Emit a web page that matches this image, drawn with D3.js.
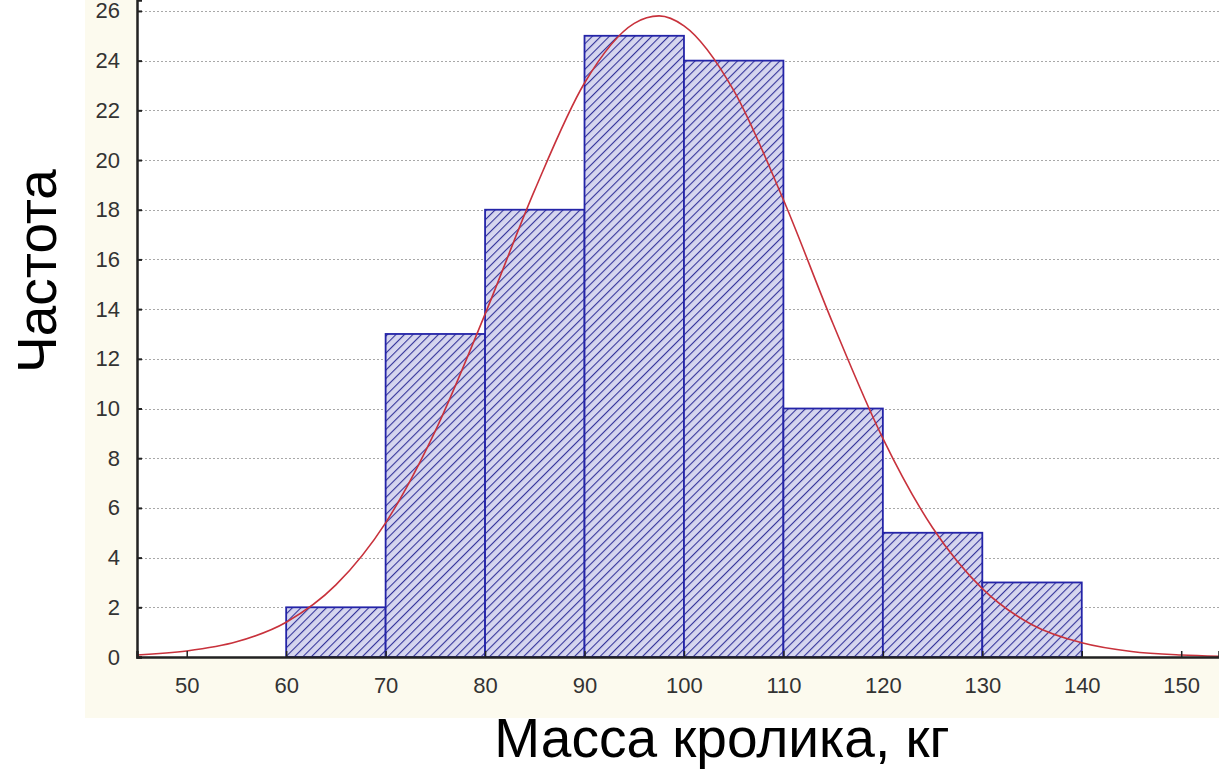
<!DOCTYPE html>
<html>
<head>
<meta charset="utf-8">
<script src="https://cdn.jsdelivr.net/npm/d3@7"></script>
<style>
  html, body { margin: 0; padding: 0; background: #ffffff; }
  svg { display: block; }
  text { font-family: Arial, "Liberation Sans", sans-serif; }
</style>
</head>
<body>
<svg id="chart" width="1219" height="769"></svg>
<script>
// Histogram bins (kg) and counts
const binStarts = [60, 70, 80, 90, 100, 110, 120, 130];
const binWidth = 10;
const counts = [2, 13, 18, 25, 24, 10, 5, 3];

// Fitted normal curve
const curveX = [45, 50, 55, 60, 65, 70, 75, 80, 85, 90, 95, 97.5, 100, 105, 110, 115, 120, 125, 130, 135, 140, 145, 150, 154];
const curveY = [0.08, 0.24, 0.61, 1.4, 2.9, 5.4, 9.1, 13.8, 18.8, 23.1, 25.5, 25.8, 25.4, 22.8, 18.4, 13.4, 8.8, 5.2, 2.75, 1.3, 0.57, 0.22, 0.08, 0.03];

const xTicks = [50, 60, 70, 80, 90, 100, 110, 120, 130, 140, 150];
const yTicks = [0, 2, 4, 6, 8, 10, 12, 14, 16, 18, 20, 22, 24, 26];

const xLabel = 'Масса кролика, кг';
const yLabel = 'Частота';

const svg = d3.select('#chart');
const plotLeft = 137, plotRight = 1219, plotTop = 0, plotBottom = 657;

const x = d3.scaleLinear().domain([45, 153.8]).range([plotLeft, plotRight]);
const y = d3.scaleLinear().domain([0, 26.44]).range([plotBottom, plotTop]);

// Cream panel behind the chart image
svg.append('rect')
  .attr('x', 85).attr('y', 0).attr('width', 1219 - 85).attr('height', 718)
  .attr('fill', '#fcfaee');
svg.append('rect')
  .attr('x', plotLeft).attr('y', plotTop)
  .attr('width', plotRight - plotLeft).attr('height', plotBottom - plotTop)
  .attr('fill', '#ffffff');

// Hatch pattern for the bars
const defs = svg.append('defs');
const pattern = defs.append('pattern')
  .attr('id', 'hatch')
  .attr('patternUnits', 'userSpaceOnUse')
  .attr('width', 6).attr('height', 6)
  .attr('patternTransform', 'rotate(45)');
pattern.append('rect').attr('width', 6).attr('height', 6).attr('fill', '#d6d6ef');
pattern.append('line')
  .attr('x1', 0).attr('y1', 0).attr('x2', 0).attr('y2', 6)
  .attr('stroke', '#34349a').attr('stroke-width', 2.2);

// Grid lines
svg.append('g')
  .selectAll('line')
  .data(yTicks.filter(d => d > 0))
  .join('line')
  .attr('x1', plotLeft).attr('x2', plotRight)
  .attr('y1', d => Math.round(y(d)) + 0.5).attr('y2', d => Math.round(y(d)) + 0.5)
  .attr('stroke', '#a8a8a8')
  .attr('stroke-width', 1)
  .attr('stroke-dasharray', '2,2');

// Bars
svg.append('g')
  .selectAll('rect')
  .data(counts)
  .join('rect')
  .attr('x', (d, i) => x(binStarts[i]))
  .attr('y', d => y(d))
  .attr('width', (d, i) => x(binStarts[i] + binWidth) - x(binStarts[i]))
  .attr('height', d => y(0) - y(d))
  .attr('fill', 'url(#hatch)')
  .attr('stroke', '#2424a8')
  .attr('stroke-width', 1.8);

// Normal curve
const line = d3.line()
  .x((d, i) => x(curveX[i]))
  .y(d => y(d))
  .curve(d3.curveMonotoneX);
svg.append('path')
  .datum(curveY)
  .attr('d', line)
  .attr('fill', 'none')
  .attr('stroke', '#c8323c')
  .attr('stroke-width', 1.6);

// Axes
const xAxis = d3.axisBottom(x).tickValues(xTicks).tickSize(-6).tickPadding(20);
const yAxis = d3.axisLeft(y).tickValues(yTicks).tickSize(-5).tickPadding(17);

const gx = svg.append('g').attr('transform', `translate(0,${plotBottom})`).call(xAxis);
gx.select('.domain').attr('stroke', '#222').attr('stroke-width', 2.5);
gx.selectAll('.tick line').attr('stroke', '#222').attr('stroke-width', 1.5);
gx.selectAll('.tick text')
  .attr('font-size', 22).attr('fill', '#333')
  .attr('font-family', 'Arial, "Liberation Sans", sans-serif');

const gy = svg.append('g').attr('transform', `translate(${plotLeft},0)`).call(yAxis);
gy.select('.domain').attr('stroke', '#222').attr('stroke-width', 2.5);
gy.selectAll('.tick line').attr('stroke', '#222').attr('stroke-width', 2);
gy.selectAll('.tick text')
  .attr('font-size', 22).attr('fill', '#333')
  .attr('font-family', 'Arial, "Liberation Sans", sans-serif');

// Axis titles
svg.append('text')
  .attr('x', 722).attr('y', 757)
  .attr('text-anchor', 'middle')
  .attr('font-size', 55)
  .attr('fill', '#000')
  .text(xLabel);

svg.append('text')
  .attr('transform', 'translate(56,271) rotate(-90)')
  .attr('text-anchor', 'middle')
  .attr('font-size', 55)
  .attr('fill', '#000')
  .text(yLabel);
</script>
</body>
</html>
